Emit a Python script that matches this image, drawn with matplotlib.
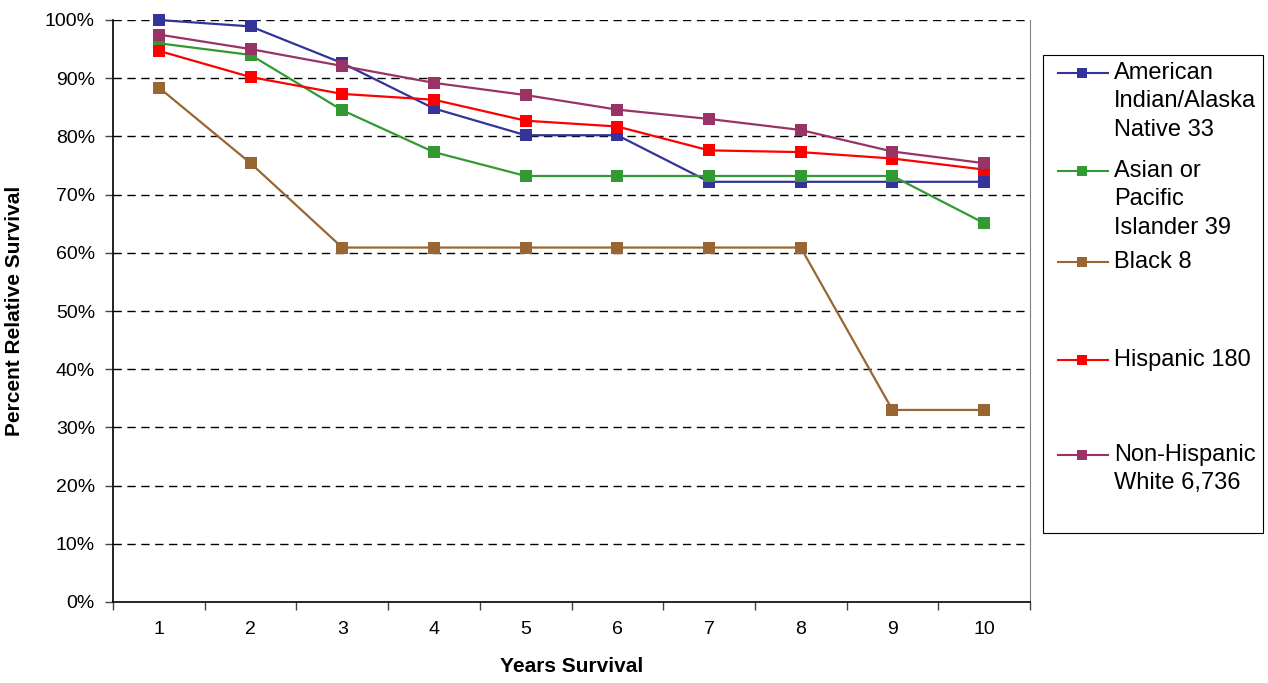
import matplotlib.pyplot as plt
from matplotlib.lines import Line2D
from matplotlib.patches import Rectangle
from matplotlib.ticker import PercentFormatter, FixedLocator

plt.rcParams['font.family'] = ['Liberation Sans', 'DejaVu Sans']

W, H = 1268, 683

years = [1, 2, 3, 4, 5, 6, 7, 8, 9, 10]

aian = [100.0, 98.9, 92.6, 84.8, 80.2, 80.2, 72.2, 72.2, 72.2, 72.2]
asian = [96.0, 94.0, 84.5, 77.3, 73.2, 73.2, 73.2, 73.2, 73.2, 65.1]
black = [88.4, 75.4, 60.9, 60.9, 60.9, 60.9, 60.9, 60.9, 33.0, 33.0]
hispanic = [94.7, 90.2, 87.3, 86.3, 82.7, 81.7, 77.6, 77.3, 76.2, 74.3]
nh_white = [97.5, 95.0, 92.1, 89.2, 87.1, 84.6, 83.0, 81.1, 77.4, 75.4]

series = [
    (["American", "Indian/Alaska", "Native 33"], aian, "#333399"),
    (["Asian or", "Pacific", "Islander 39"], asian, "#339933"),
    (["Black 8"], black, "#996633"),
    (["Hispanic 180"], hispanic, "#FF0000"),
    (["Non-Hispanic", "White 6,736"], nh_white, "#993366"),
]

fig = plt.figure(figsize=(W / 100, H / 100), dpi=100)
ax = fig.add_axes([113 / W, (H - 602) / H, (1030 - 113) / W, (602 - 20) / H])

for label, vals, color in series:
    ax.plot(years, vals, color=color, lw=1.6, marker='s', markersize=8.5,
            markeredgewidth=0, clip_on=False, zorder=3)

ax.set_xlim(0.5, 10.5)
ax.set_ylim(0, 100)
ax.set_yticks(range(0, 101, 10))
ax.yaxis.set_major_formatter(PercentFormatter(decimals=0))
ax.set_xticks(years)
ax.xaxis.set_minor_locator(FixedLocator([y + 0.5 for y in range(0, 11)]))
ax.tick_params(axis='x', which='major', length=0, pad=14, labelsize=14)
ax.tick_params(axis='x', which='minor', length=6, width=1, direction='out', color='#444444')
ax.tick_params(axis='y', length=6, width=1, direction='out', color='#444444', pad=7, labelsize=14)

for v in range(10, 101, 10):
    ax.axhline(v, color='black', lw=1, ls=(0, (6, 4)), zorder=1)

ax.spines['top'].set_visible(False)
ax.spines['right'].set_color('#808080')
ax.spines['left'].set_linewidth(1.2)
ax.spines['bottom'].set_linewidth(1.2)

ax.set_xlabel('Years Survival', fontsize=15, fontweight='bold', va='center')
ax.xaxis.set_label_coords(0.5, (602 - 666) / 582)
ax.set_ylabel('Percent Relative Survival', fontsize=15, fontweight='bold', va='center')
ax.yaxis.set_label_coords((15 - 113) / 917, 0.5)

# legend box drawn in figure pixels, markers aligned with the first text line
def fx(px):
    return px / W

def fy(py):
    return 1 - py / H

fig.patches.append(Rectangle((fx(1043), fy(533)), fx(1263) - fx(1043), fy(55) - fy(533),
                             transform=fig.transFigure, facecolor='white',
                             edgecolor='black', lw=0.8))
entry_y = [73, 171, 262, 360, 455]
for (label, vals, color), py in zip(series, entry_y):
    fig.lines.append(Line2D([fx(1058), fx(1108)], [fy(py), fy(py)], color=color, lw=1.5,
                            transform=fig.transFigure))
    fig.lines.append(Line2D([fx(1082)], [fy(py)], color=color, marker='s', markersize=7.5,
                            markeredgewidth=0, transform=fig.transFigure))
    for i, line in enumerate(label):
        fig.text(fx(1114), fy(py + i * 28.3), line, fontsize=17, va='center', ha='left')

fig.savefig('out.png', dpi=100)
